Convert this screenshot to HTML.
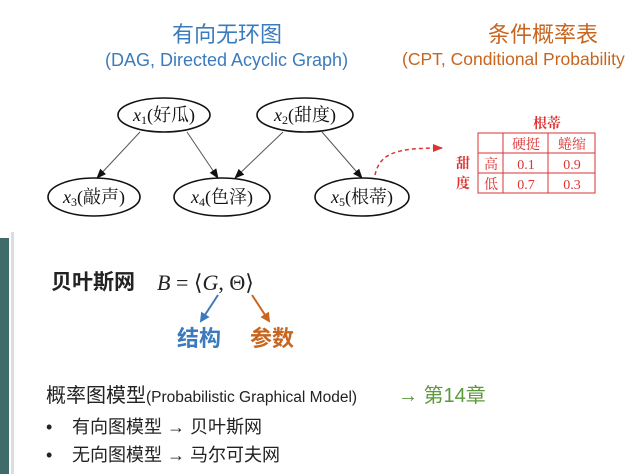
<!DOCTYPE html>
<html><head><meta charset="utf-8"><style>
body{margin:0;width:637px;height:474px;background:#fff;position:relative;overflow:hidden;font-family:"Liberation Sans","Noto Sans CJK SC",sans-serif}
.a{position:absolute;white-space:nowrap;line-height:1}
</style></head><body>
<div class="a" style="left:0;top:238px;width:9px;height:236px;background:#3f6b6a"></div>
<div class="a" style="left:11px;top:232px;width:3px;height:242px;background:#ddd"></div>
<div class="a" style="left:172px;top:24px;font-size:22px;color:#3b7bbd">有向无环图</div>
<div class="a" style="left:105px;top:51px;font-size:18px;color:#3b7bbd">(DAG, Directed Acyclic Graph)</div>
<div class="a" style="left:488px;top:24px;font-size:22px;color:#c8651e">条件概率表</div>
<div class="a" style="left:402px;top:51px;font-size:17.5px;color:#c8651e">(CPT, Conditional Probability</div>
<svg class="a" style="left:0;top:0" width="637" height="474">
<defs><marker id="m" markerWidth="10" markerHeight="10" refX="9" refY="5" orient="auto" markerUnits="userSpaceOnUse"><path d="M0,1 L10,5 L0,9z" fill="#111"/></marker>
<marker id="r" markerWidth="10" markerHeight="10" refX="9" refY="5" orient="auto" markerUnits="userSpaceOnUse"><path d="M0,1 L10,5 L0,9z" fill="#d33"/></marker>
<marker id="b" markerWidth="10" markerHeight="10" refX="8" refY="5" orient="auto" markerUnits="userSpaceOnUse"><path d="M0,0 L10,5 L0,10z" fill="#3b7bbd"/></marker>
<marker id="o" markerWidth="10" markerHeight="10" refX="8" refY="5" orient="auto" markerUnits="userSpaceOnUse"><path d="M0,0 L10,5 L0,10z" fill="#c8651e"/></marker></defs>
<g stroke="#555" stroke-width="1" fill="none">
<line x1="140" y1="132" x2="97" y2="178" marker-end="url(#m)"/>
<line x1="187" y1="132" x2="218" y2="178" marker-end="url(#m)"/>
<line x1="283" y1="132" x2="235" y2="178" marker-end="url(#m)"/>
<line x1="322" y1="132" x2="362" y2="178" marker-end="url(#m)"/>
</g>
<g stroke="#111" stroke-width="1.6" fill="#fff">
<ellipse cx="164" cy="115" rx="46" ry="17"/><ellipse cx="305" cy="115" rx="48" ry="17"/>
<ellipse cx="94" cy="197" rx="46" ry="19"/><ellipse cx="222" cy="197" rx="48" ry="19"/><ellipse cx="362" cy="197" rx="47" ry="19"/>
</g>
<path d="M375,175 C380,152 398,148 442,148" stroke="#d33" stroke-width="1.5" stroke-dasharray="4,3" fill="none" marker-end="url(#r)"/>
<g font-family="Liberation Serif,Noto Serif CJK SC,serif" font-size="18" fill="#111" text-anchor="middle">
<text x="164" y="121"><tspan font-style="italic">x</tspan><tspan font-size="12" dy="3">1</tspan><tspan dy="-3">(好瓜)</tspan></text>
<text x="305" y="121"><tspan font-style="italic">x</tspan><tspan font-size="12" dy="3">2</tspan><tspan dy="-3">(甜度)</tspan></text>
<text x="94" y="203"><tspan font-style="italic">x</tspan><tspan font-size="12" dy="3">3</tspan><tspan dy="-3">(敲声)</tspan></text>
<text x="222" y="203"><tspan font-style="italic">x</tspan><tspan font-size="12" dy="3">4</tspan><tspan dy="-3">(色泽)</tspan></text>
<text x="362" y="203"><tspan font-style="italic">x</tspan><tspan font-size="12" dy="3">5</tspan><tspan dy="-3">(根蒂)</tspan></text>
</g>
<g stroke="#d33" stroke-width="1" fill="none">
<rect x="478" y="133" width="117" height="60"/>
<line x1="478" y1="153" x2="595" y2="153"/><line x1="478" y1="173" x2="595" y2="173"/>
<line x1="503" y1="133" x2="503" y2="193"/><line x1="548" y1="133" x2="548" y2="193"/>
</g>
<g font-family="Liberation Serif,Noto Serif CJK SC,serif" font-size="14" fill="#d33" text-anchor="middle">
<text x="547" y="128" font-weight="bold">根蒂</text>
<text x="526" y="149">硬挺</text><text x="572" y="149">蜷缩</text>
<text x="491" y="169">高</text><text x="491" y="189">低</text>
<text x="526" y="169">0.1</text><text x="572" y="169">0.9</text>
<text x="526" y="189">0.7</text><text x="572" y="189">0.3</text>
<text x="463" y="168" font-weight="bold">甜</text><text x="463" y="188" font-weight="bold">度</text>
</g>
<line x1="218" y1="295" x2="201" y2="321" stroke="#3b7bbd" stroke-width="2" marker-end="url(#b)"/>
<line x1="252" y1="295" x2="269" y2="321" stroke="#c8651e" stroke-width="2" marker-end="url(#o)"/>
<text x="157" y="290" font-family="Liberation Serif,serif" font-size="22" fill="#222"><tspan font-style="italic">B</tspan> = ⟨<tspan font-style="italic">G</tspan>, Θ⟩</text>
</svg>
<div class="a" style="left:51px;top:272px;font-size:21px;font-weight:bold;color:#222">贝叶斯网</div>
<div class="a" style="left:177px;top:328px;font-size:22px;font-weight:bold;color:#3b7bbd">结构</div>
<div class="a" style="left:250px;top:328px;font-size:22px;font-weight:bold;color:#c8651e">参数</div>
<div class="a" style="left:46px;top:386px;font-size:20px;color:#222">概率图模型<span style="font-size:15.5px">(Probabilistic Graphical Model)</span></div>
<div class="a" style="left:398px;top:386px;font-size:20px;color:#5a9a3a">→ 第14章</div>
<div class="a" style="left:46px;top:418px;font-size:18px;color:#222">•</div>
<div class="a" style="left:72px;top:418px;font-size:18px;color:#222">有向图模型 → 贝叶斯网</div>
<div class="a" style="left:46px;top:446px;font-size:18px;color:#222">•</div>
<div class="a" style="left:72px;top:446px;font-size:18px;color:#222">无向图模型 → 马尔可夫网</div>
</body></html>
